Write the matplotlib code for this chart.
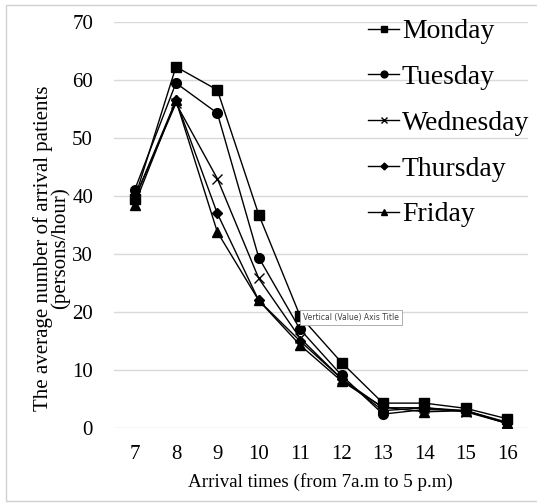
import matplotlib.pyplot as plt
from matplotlib.patches import Rectangle

hours = [7, 8, 9, 10, 11, 12, 13, 14, 15, 16]
monday = [39.5, 62.3, 58.3, 36.8, 19.3, 11.3, 4.3, 4.3, 3.4, 1.6]
tuesday = [41.0, 59.5, 54.3, 29.4, 17.0, 9.1, 2.4, 3.2, 3.0, 1.0]
wednesday = [39.5, 56.0, 43.0, 25.8, 15.5, 8.5, 3.5, 3.5, 2.8, 0.8]
thursday = [39.5, 56.5, 37.0, 22.0, 15.0, 8.5, 3.0, 3.5, 3.0, 0.8]
friday = [38.5, 56.5, 33.8, 22.0, 14.3, 8.1, 3.6, 2.8, 3.0, 0.8]

plt.rcParams['font.family'] = ['Liberation Serif', 'DejaVu Serif']

fig = plt.figure(figsize=(5.37, 5.03), dpi=100)
ax = fig.add_axes([0.212, 0.149, 0.771, 0.807])

# thin grey frame around the whole picture
fig.patches.append(Rectangle((6 / 537, 2 / 503), 1.0, 496 / 503, transform=fig.transFigure,
                             fill=False, edgecolor='#d0d0d0', linewidth=1))

series = [
    ('Monday', monday, 's', 7),
    ('Tuesday', tuesday, 'o', 7),
    ('Wednesday', wednesday, 'x', 7),
    ('Thursday', thursday, 'D', 5),
    ('Friday', friday, '^', 7),
]
for name, vals, mk, ms in series:
    ax.plot(hours, vals, color='black', linewidth=1, marker=mk, markersize=ms,
            markeredgewidth=1, label=name)

ax.set_xlim(6.5, 16.5)
ax.set_ylim(0, 70)
ax.set_xticks(hours)
ax.set_yticks(range(0, 71, 10))
ax.grid(axis='y', color='#d9d9d9', linewidth=1)
ax.set_axisbelow(True)
for s in ax.spines.values():
    s.set_visible(False)
ax.tick_params(length=0, labelsize=15)
ax.tick_params(axis='y', pad=15)
ax.tick_params(axis='x', pad=12)

ax.set_xlabel('Arrival times (from 7a.m to 5 p.m)', fontsize=13.7, labelpad=7)
ax.set_ylabel('The average number of arrival patients\n(persons/hour)', fontsize=15,
              linespacing=0.85)
ax.yaxis.set_label_coords(-0.105, 0.443)

leg = ax.legend(loc='upper right', bbox_to_anchor=(1.03, 1.035), frameon=False,
                fontsize=20, handlelength=1.1, handletextpad=0.1, markerscale=0.7,
                labelspacing=0.73, borderaxespad=0)

ax.text(0.457, 0.273, 'Vertical (Value) Axis Title', transform=ax.transAxes,
        fontsize=5.5, family='DejaVu Sans', color='#404040', va='center',
        bbox=dict(boxstyle='square,pad=0.4', facecolor='white', edgecolor='#a0a0a0',
                  linewidth=0.6))

fig.savefig('out.png', dpi=100)
